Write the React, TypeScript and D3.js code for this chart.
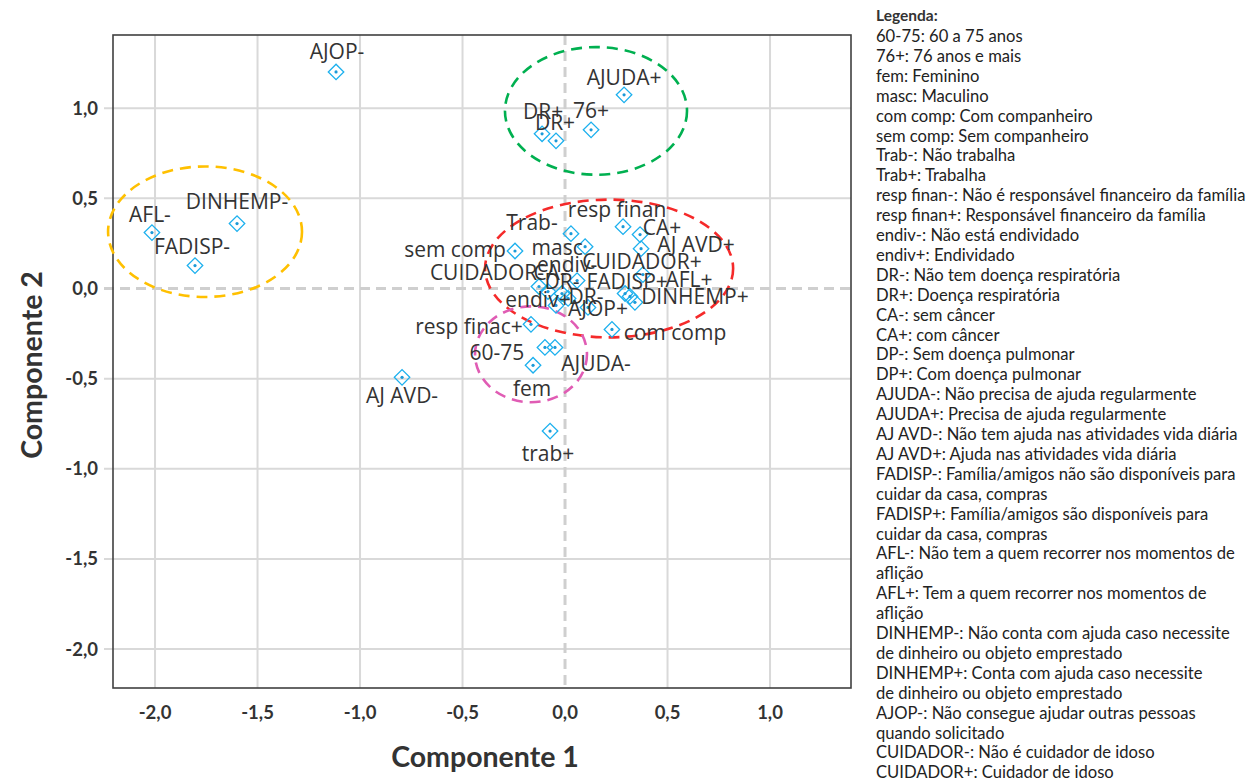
import React, { useEffect, useRef } from 'react';
import * as d3 from 'd3';

// categorias e coordenadas nas duas componentes
const categories = [
  'AJOP-', 'AFL-', 'DINHEMP-', 'FADISP-', 'AJUDA+', '76+', 'DR+', 'DR+',
  'Trab-', 'masc', 'sem comp', 'resp finan', 'CA+', 'AJ AVD+', 'CUIDADOR+', 'FADISP+',
  'AFL+', 'DINHEMP+', 'CUIDADOR-', 'CA-', 'endiv-', 'DR-', 'endiv+', 'DR-',
  'AJOP+', 'com comp', 'resp finac+', '60-75', 'AJUDA-', 'fem', 'trab+', 'AJ AVD-',
];
const comp1 = [
  -1.117, -2.015, -1.600, -1.805, 0.288, 0.127, -0.112, -0.044,
  0.029, 0.098, -0.244, 0.283, 0.366, 0.371, 0.380, 0.293,
  0.317, 0.341, -0.127, -0.083, 0.059, -0.015, -0.044, 0.015,
  0.112, 0.229, -0.166, -0.098, -0.049, -0.156, -0.073, -0.795,
];
const comp2 = [
  1.201, 0.310, 0.360, 0.127, 1.074, 0.880, 0.858, 0.819,
  0.304, 0.232, 0.208, 0.343, 0.299, 0.221, 0.077, -0.028,
  -0.044, -0.077, 0.011, -0.017, 0.044, -0.028, -0.094, -0.055,
  -0.105, -0.227, -0.199, -0.327, -0.327, -0.426, -0.791, -0.493,
];

// grupos (elipses) em unidades dos eixos
const groupCx = [-1.756, 0.151, 0.215, -0.166];
const groupCy = [0.315, 0.985, 0.111, -0.365];
const groupRx = [0.473, 0.444, 0.605, 0.273];
const groupRy = [0.362, 0.354, 0.382, 0.266];

const xTicks = [-2, -1.5, -1, -0.5, 0, 0.5, 1];
const yTicks = [1, 0.5, 0, -0.5, -1, -1.5, -2];

const legendTitle = 'Legenda:';
const legendLines = [
  '60-75: 60 a 75 anos',
  '76+: 76 anos e mais',
  'fem: Feminino',
  'masc: Maculino',
  'com comp: Com companheiro',
  'sem comp: Sem companheiro',
  'Trab-: Não trabalha',
  'Trab+: Trabalha',
  'resp finan-: Não é responsável financeiro da família',
  'resp finan+: Responsável financeiro da família',
  'endiv-: Não está endividado',
  'endiv+: Endividado',
  'DR-: Não tem doença respiratória',
  'DR+: Doença respiratória',
  'CA-: sem câncer',
  'CA+: com câncer',
  'DP-: Sem doença pulmonar',
  'DP+: Com doença pulmonar',
  'AJUDA-: Não precisa de ajuda regularmente',
  'AJUDA+: Precisa de ajuda regularmente',
  'AJ AVD-: Não tem ajuda nas atividades vida diária',
  'AJ AVD+: Ajuda nas atividades vida diária',
  'FADISP-: Família/amigos não são disponíveis para',
  'cuidar da casa, compras',
  'FADISP+: Família/amigos são disponíveis para',
  'cuidar da casa, compras',
  'AFL-: Não tem a quem recorrer nos momentos de',
  'aflição',
  'AFL+: Tem a quem recorrer nos momentos de',
  'aflição',
  'DINHEMP-: Não conta com ajuda caso necessite',
  'de dinheiro ou objeto emprestado',
  'DINHEMP+: Conta com ajuda caso necessite',
  'de dinheiro ou objeto emprestado',
  'AJOP-: Não consegue ajudar outras pessoas',
  'quando solicitado',
  'CUIDADOR-: Não é cuidador de idoso',
  'CUIDADOR+: Cuidador de idoso',
];

// deslocamento dos rótulos em relação ao ponto (px)
const labelNudge: [number, number][] = [
  [1, -20], [-2, -18], [0, -22], [-3, -19], [0, -17], [0, -19], [1, -22], [-1, -18],
  [-39, -11], [-28, 1], [-60, -1], [-6, -17], [22, -7], [55, -4], [-1, -13], [2, -12],
  [59, -17], [60, -6], [-52, -14], [2, -19], [-10, -16], [0, -12], [-18, -6], [18, -2],
  [10, 1], [63, 3], [-62, 2], [-48, 5], [41, 16], [-1, 23], [-2, 22], [0, 18],
];
const groupColors = ['#ffc000', '#00b050', '#f52a2a', '#e05cb4'];

const W = 1254;
const H = 783;
const plot = { left: 113, right: 851, top: 35, bottom: 688 };

const App = () => {
  const ref = useRef<SVGSVGElement | null>(null);

  useEffect(() => {
    const svg = d3.select(ref.current);
    svg.selectAll('*').remove();

    const x = d3.scaleLinear().domain([-2.205, 1.395]).range([plot.left, plot.right]);
    const y = d3.scaleLinear().domain([-2.216, 1.406]).range([plot.bottom, plot.top]);
    const fmt = (v: number) => d3.format('.1f')(v).replace('.', ',').replace('−', '-');

    svg.append('rect').attr('width', W).attr('height', H).attr('fill', '#ffffff');

    // grade
    const grid = svg.append('g');
    grid.selectAll('line.gx')
      .data(xTicks.filter(t => t !== 0))
      .enter().append('line')
      .attr('x1', d => x(d)).attr('x2', d => x(d))
      .attr('y1', plot.top).attr('y2', plot.bottom)
      .attr('stroke', '#d9d9d9').attr('stroke-width', 2);
    grid.selectAll('line.gy')
      .data(yTicks.filter(t => t !== 0))
      .enter().append('line')
      .attr('x1', plot.left - 9).attr('x2', plot.right)
      .attr('y1', d => y(d)).attr('y2', d => y(d))
      .attr('stroke', '#d9d9d9').attr('stroke-width', 2);
    grid.append('line')
      .attr('x1', x(0)).attr('x2', x(0)).attr('y1', plot.top).attr('y2', plot.bottom)
      .attr('stroke', '#cfcfcf').attr('stroke-width', 3).attr('stroke-dasharray', '10 6');
    grid.append('line')
      .attr('x1', plot.left - 9).attr('x2', plot.right).attr('y1', y(0)).attr('y2', y(0))
      .attr('stroke', '#cfcfcf').attr('stroke-width', 3).attr('stroke-dasharray', '10 6');

    svg.append('rect')
      .attr('x', plot.left).attr('y', plot.top)
      .attr('width', plot.right - plot.left).attr('height', plot.bottom - plot.top)
      .attr('fill', 'none').attr('stroke', '#404040').attr('stroke-width', 1.6);

    // rótulos dos eixos
    svg.append('g').selectAll('text')
      .data(xTicks).enter().append('text')
      .attr('x', d => x(d)).attr('y', plot.bottom + 31)
      .attr('text-anchor', 'middle')
      .style('font-family', 'Lato, sans-serif').style('font-weight', 700)
      .style('font-size', '18.5px').style('fill', '#333')
      .text(d => fmt(d));
    svg.append('g').selectAll('text')
      .data(yTicks).enter().append('text')
      .attr('x', 98).attr('y', d => y(d) + 6.5)
      .attr('text-anchor', 'end')
      .style('font-family', 'Lato, sans-serif').style('font-weight', 700)
      .style('font-size', '18.5px').style('fill', '#333')
      .text(d => fmt(d));

    svg.append('text')
      .attr('x', 485).attr('y', 767)
      .attr('text-anchor', 'middle')
      .style('font-family', 'Lato, sans-serif').style('font-weight', 700)
      .style('font-size', '28.5px').style('fill', '#333')
      .text('Componente 1');
    svg.append('text')
      .attr('transform', 'translate(42,365) rotate(-90)')
      .attr('text-anchor', 'middle')
      .style('font-family', 'Lato, sans-serif').style('font-weight', 700)
      .style('font-size', '28.5px').style('fill', '#333')
      .text('Componente 2');

    // elipses dos grupos
    svg.append('g').selectAll('ellipse')
      .data(groupCx.map((cx, i) => ({ cx, cy: groupCy[i], rx: groupRx[i], ry: groupRy[i], c: groupColors[i] })))
      .enter().append('ellipse')
      .attr('cx', d => x(d.cx)).attr('cy', d => y(d.cy))
      .attr('rx', d => x(d.rx) - x(0)).attr('ry', d => y(0) - y(d.ry))
      .attr('fill', 'none').attr('stroke', d => d.c)
      .attr('stroke-width', 2.6).attr('stroke-dasharray', '11 7');

    // pontos
    const pts = categories.map((name, i) => ({ name, cx: x(comp1[i]), cy: y(comp2[i]), nudge: labelNudge[i] }));
    const diamond = d3.symbol().type(d3.symbolSquare).size(120);
    const marks = svg.append('g');
    marks.selectAll('path')
      .data(pts).enter().append('path')
      .attr('d', diamond)
      .attr('transform', d => `translate(${d.cx},${d.cy}) rotate(45)`)
      .attr('fill', 'none').attr('stroke', '#1cb0ee').attr('stroke-width', 1.3);
    marks.selectAll('circle')
      .data(pts).enter().append('circle')
      .attr('cx', d => d.cx).attr('cy', d => d.cy).attr('r', 1.6)
      .attr('fill', '#1a9ad8');

    svg.append('g').selectAll('text')
      .data(pts).enter().append('text')
      .attr('x', d => d.cx + d.nudge[0]).attr('y', d => d.cy + d.nudge[1] + 7.5)
      .attr('text-anchor', 'middle')
      .style('font-family', '"Open Sans", sans-serif')
      .style('font-size', '21px').style('fill', '#333')
      .text(d => d.name);

    // legenda
    const leg = svg.append('g').attr('transform', 'translate(876,0)');
    leg.append('text')
      .attr('x', 0).attr('y', 20.5)
      .style('font-family', 'Lato, sans-serif').style('font-weight', 700)
      .style('font-size', '15.5px').style('fill', '#333')
      .text(legendTitle);
    leg.selectAll('text.line')
      .data(legendLines).enter().append('text')
      .attr('class', 'line')
      .attr('x', 0).attr('y', (d, i) => 42 + i * 19.9)
      .style('font-family', 'Lato, sans-serif')
      .style('font-size', '16.6px').style('fill', '#222')
      .text(d => d);
  }, []);

  return (
    <svg ref={ref} width={W} height={H}
      style={{ position: 'absolute', left: 0, top: 0, display: 'block' }} />
  );
};

export default App;
